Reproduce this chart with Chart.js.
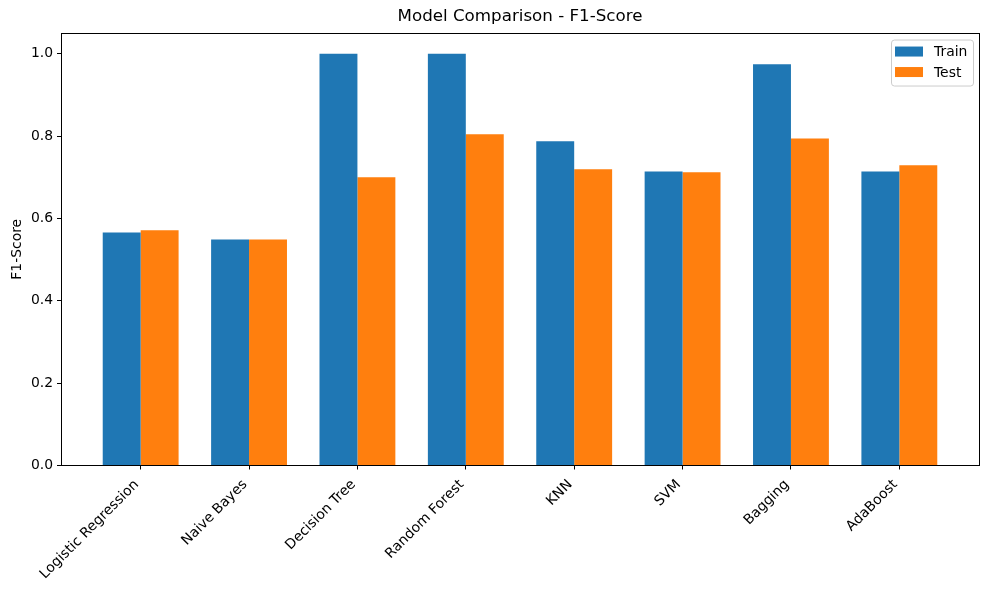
<!DOCTYPE html>
<html>
<head>
<meta charset="utf-8">
<script src="https://cdn.jsdelivr.net/npm/chart.js@4"></script>
<style>
  html, body { margin: 0; padding: 0; background: #fff; }
  #wrap { width: 989px; height: 590px; }
</style>
</head>
<body>
<div id="wrap"><canvas id="c" width="989" height="590"></canvas></div>
<script>
const models = ["Logistic Regression", "Naive Bayes", "Decision Tree", "Random Forest", "KNN", "SVM", "Bagging", "AdaBoost"];
const trainScores = [0.566, 0.549, 1.000, 1.000, 0.787, 0.714, 0.974, 0.714];
const testScores  = [0.571, 0.549, 0.700, 0.804, 0.719, 0.712, 0.794, 0.729];
const yTicks = [0.0, 0.2, 0.4, 0.6, 0.8, 1.0];

Chart.defaults.font.family = "'DejaVu Sans', sans-serif";
Chart.defaults.font.size = 13.9;
Chart.defaults.color = '#000';

const boxPlugin = {
  id: 'boxPlugin',
  afterDraw(chart) {
    const ctx = chart.ctx, a = chart.chartArea;
    ctx.save();
    ctx.strokeStyle = '#000';
    ctx.lineWidth = 1;
    ctx.strokeRect(Math.round(a.left) + 0.5, Math.round(a.top) + 0.5, Math.round(a.right - a.left), Math.round(a.bottom - a.top));
    // legend
    const bx = a.right - 88, by = a.top + 6.5, bw = 82, bh = 46;
    ctx.beginPath();
    ctx.roundRect(bx + 0.5, by + 0.5, bw, bh, 3);
    ctx.fillStyle = 'rgba(255,255,255,0.8)';
    ctx.fill();
    ctx.strokeStyle = '#cccccc';
    ctx.stroke();
    ctx.font = "13.9px 'DejaVu Sans', sans-serif";
    ctx.textBaseline = 'middle';
    ctx.textAlign = 'left';
    chart.data.datasets.forEach((ds, i) => {
      const y = by + 12 + i * 20.5;
      ctx.fillStyle = ds.backgroundColor;
      ctx.fillRect(bx + 4, y - 5, 28, 10);
      ctx.fillStyle = '#000';
      ctx.fillText(ds.label, bx + 43, y + 1);
    });
    ctx.restore();
  }
};

new Chart(document.getElementById('c'), {
  type: 'bar',
  data: {
    datasets: [
      { label: 'Train', data: trainScores.map((v, i) => ({ x: i, y: v })), backgroundColor: '#1f77b4', borderWidth: 0 },
      { label: 'Test',  data: testScores.map((v, i) => ({ x: i, y: v })),  backgroundColor: '#ff7f0e', borderWidth: 0 }
    ]
  },
  options: {
    responsive: false,
    animation: false,
    devicePixelRatio: 1,
    categoryPercentage: 0.7,
    barPercentage: 1.0,
    layout: { padding: { left: 0, right: 10, top: 0, bottom: 0 } },
    plugins: {
      legend: { display: false },
      tooltip: { enabled: false },
      title: {
        display: true,
        text: 'Model Comparison - F1-Score',
        fullSize: false,
        font: { size: 16.7, weight: 'normal' },
        color: '#000',
        padding: { top: 7, bottom: 6 }
      }
    },
    scales: {
      x: {
        type: 'linear',
        min: -0.735,
        max: 7.735,
        offset: false,
        grid: { drawOnChartArea: false, tickLength: 4, color: '#000', offset: false },
        border: { display: true, color: '#000' },
        afterBuildTicks: (axis) => { axis.ticks = models.map((_, i) => ({ value: i })); },
        afterFit: (axis) => { axis.height = 124.5; },
        ticks: {
          autoSkip: false,
          maxRotation: 45,
          minRotation: 45,
          padding: 7,
          labelOffset: -4,
          callback: (v) => models[v]
        }
      },
      y: {
        min: 0,
        max: 1.05,
        grid: { drawOnChartArea: false, tickLength: 4, color: '#000' },
        border: { display: true, color: '#000' },
        afterBuildTicks: (axis) => { axis.ticks = yTicks.map(v => ({ value: v })); },
        afterFit: (axis) => { axis.width = 61; },
        ticks: { padding: 4, callback: (v) => Number(v).toFixed(1) },
        title: { display: true, text: 'F1-Score', padding: { top: 9, bottom: 0 }, font: { size: 13.9 } }
      }
    }
  },
  plugins: [boxPlugin]
});
</script>
</body>
</html>
